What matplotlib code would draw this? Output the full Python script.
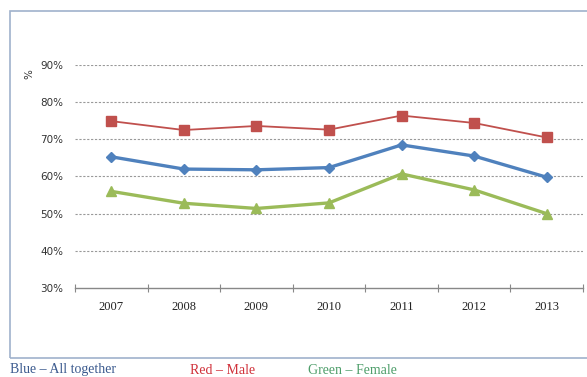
import matplotlib
matplotlib.use("Agg")
import matplotlib.pyplot as plt
from matplotlib.patches import Rectangle

years = ["2007", "2008", "2009", "2010", "2011", "2012", "2013"]
all_together = [65.3, 62.0, 61.8, 62.4, 68.5, 65.5, 59.8]
male = [74.9, 72.5, 73.6, 72.6, 76.4, 74.4, 70.5]
female = [56.0, 52.8, 51.4, 52.9, 60.7, 56.4, 50.0]
yticks = [30, 40, 50, 60, 70, 80, 90]
ytick_labels = ["30%", "40%", "50%", "60%", "70%", "80%", "90%"]

W, H = 587, 377
fig = plt.figure(figsize=(W / 100, H / 100), dpi=100)
fig.patch.set_facecolor("white")

# outer chart border
fig.patches.append(Rectangle((10 / W, 1 - 358 / H), 1.2, (358 - 11) / H,
                             transform=fig.transFigure, fill=False,
                             edgecolor="#9fb2cc", linewidth=1.2))

ax = fig.add_axes([75 / W, 1 - 288 / H, (583 - 75) / W, (288 - 65) / H])
x = list(range(len(years)))

ax.plot(x, male, color="#c0504d", linewidth=1.3, marker="s", markersize=6.5,
        zorder=3)
ax.plot(x, all_together, color="#4f81bd", linewidth=2.4, marker="D",
        markersize=5.5, zorder=3)
ax.plot(x, female, color="#9bbb59", linewidth=2.4, marker="^",
        markersize=7.5, zorder=3)

ax.set_xlim(-0.5, len(years) - 0.5)
ax.set_ylim(30, 90)
ax.set_yticks(yticks)
ax.set_yticklabels(ytick_labels, fontsize=7.5, color="#333333",
                   family="DejaVu Sans")
ax.set_xticks(x)
ax.set_xticklabels(years, fontsize=9, family="Liberation Serif",
                   color="#222222")
ax.tick_params(axis="y", length=0, pad=8.5)
ax.tick_params(axis="x", which="major", length=0, pad=9)
ax.set_xticks([i - 0.5 for i in range(len(years) + 1)], minor=True)
ax.tick_params(axis="x", which="minor", length=6, direction="inout",
               color="#888888", width=0.8)

for v in yticks[1:]:
    ax.axhline(v, color="#999999", linestyle=(0, (2, 1.5)), linewidth=0.8,
               zorder=1)

for s in ["top", "right", "left"]:
    ax.spines[s].set_visible(False)
ax.spines["bottom"].set_color("#888888")
ax.spines["bottom"].set_linewidth(1.0)

fig.text(29 / W, 1 - 74 / H, "%", rotation=90, fontsize=7.5,
         ha="center", va="center", color="#333333", family="DejaVu Sans")

fig.text(10 / W, 1 - 370 / H, "Blue \u2013 All together", fontsize=10,
         family="Liberation Serif", color="#3b5a8e", va="center")
fig.text(190 / W, 1 - 370 / H, "Red \u2013 Male", fontsize=10,
         family="Liberation Serif", color="#d0313a", va="center")
fig.text(308 / W, 1 - 370 / H, "Green \u2013 Female", fontsize=10,
         family="Liberation Serif", color="#4e9e6a", va="center")

fig.savefig("out.png", dpi=100)
